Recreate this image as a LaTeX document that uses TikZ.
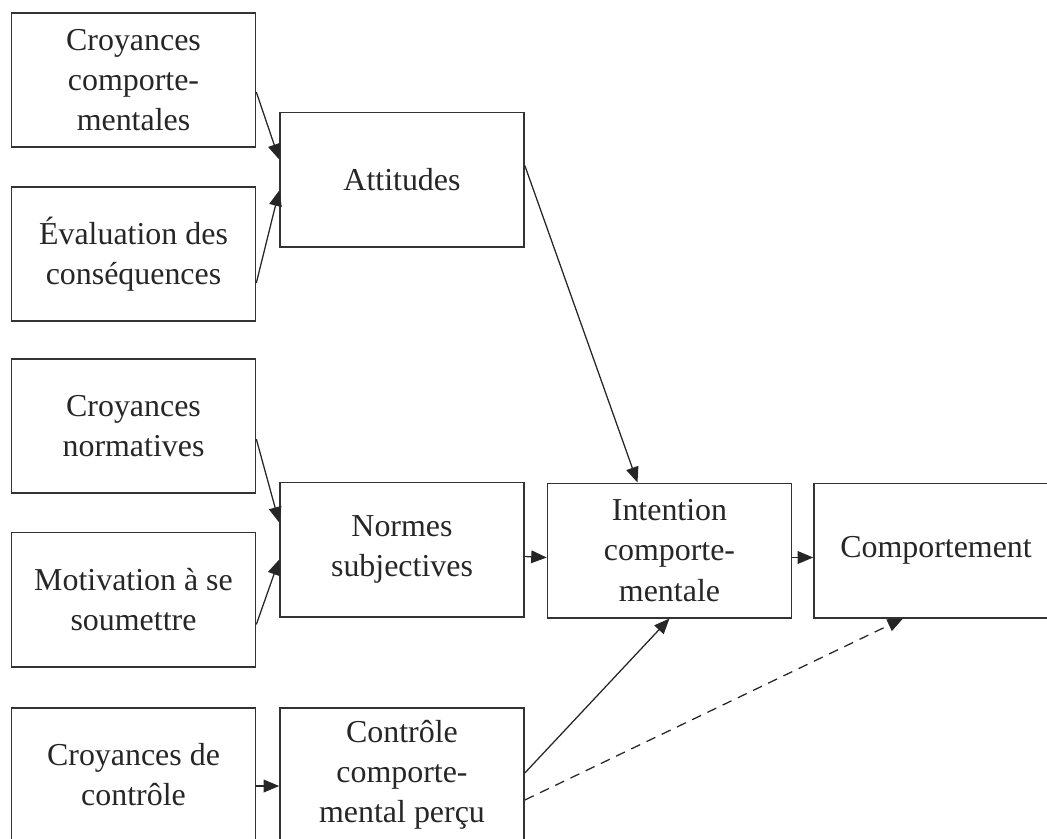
\documentclass[tikz,border=0pt]{standalone}
\usepackage{fontspec}
\setmainfont{Liberation Serif}
\usetikzlibrary{arrows.meta,calc}

\begin{document}
\begin{tikzpicture}[x=.025cm,y=-.025cm,font=\fontsize{22.7}{28.5}\selectfont,
box/.style={draw=black!80,line width=1.1pt,text=black!85,align=center,minimum width=6.1cm,minimum height=3.36cm,inner sep=0pt},
arr/.style={-{Triangle[length=11pt,width=9pt]},draw=black!85,line width=.9pt}]
\clip(0,0)rectangle(1047,838);
\node[box](cb)at(133.5,80){Croyances\\comporte-\\mentales};\node[box](ev)at(133.5,254){Évaluation des\\conséquences};
\node[box](cn)at(133.5,426){Croyances\\normatives};\node[box](ms)at(133.5,599.5){Motivation à se\\soumettre};
\node[box](cc)at(133.5,775){Croyances de\\contrôle};
\node[box](att)at(402,179.5){Attitudes};\node[box](ns)at(402,549.5){Normes\\subjectives};\node[box](ctl)at(402,775){Contrôle\\comporte-\\mental perçu};
\node[box](int)at(669.5,550.5){Intention\\comporte-\\mentale};\node[box](comp)at(936,550.5){Comportement};
\draw[arr]($(cb.east)+(0,12)$)--($(att.west)+(0,-20)$);\draw[arr]($(ev.east)+(0,29)$)--($(att.west)+(0,11)$);
\draw[arr]($(cn.east)+(0,13)$)--($(ns.west)+(0,-27)$);\draw[arr]($(ms.east)+(0,25)$)--($(ns.west)+(0,10)$);
\draw[arr]($(cc.east)+(0,11)$)--($(ctl.west)+(0,11)$);
\draw[arr]($(att.east)+(0,-14)$)--($(int.north)+(-32,0)$);
\draw[arr]($(ns.east)+(0,7)$)--($(int.west)+(0,7)$);\draw[arr]($(int.east)+(0,7)$)--($(comp.west)+(0,7)$);
\draw[arr]($(ctl.east)+(0,-2)$)--(int.south);
\draw[arr,dash pattern=on 7pt off 5pt]($(ctl.east)+(0,25)$)--($(comp.south)+(-33,0)$);
\end{tikzpicture}
\end{document}
